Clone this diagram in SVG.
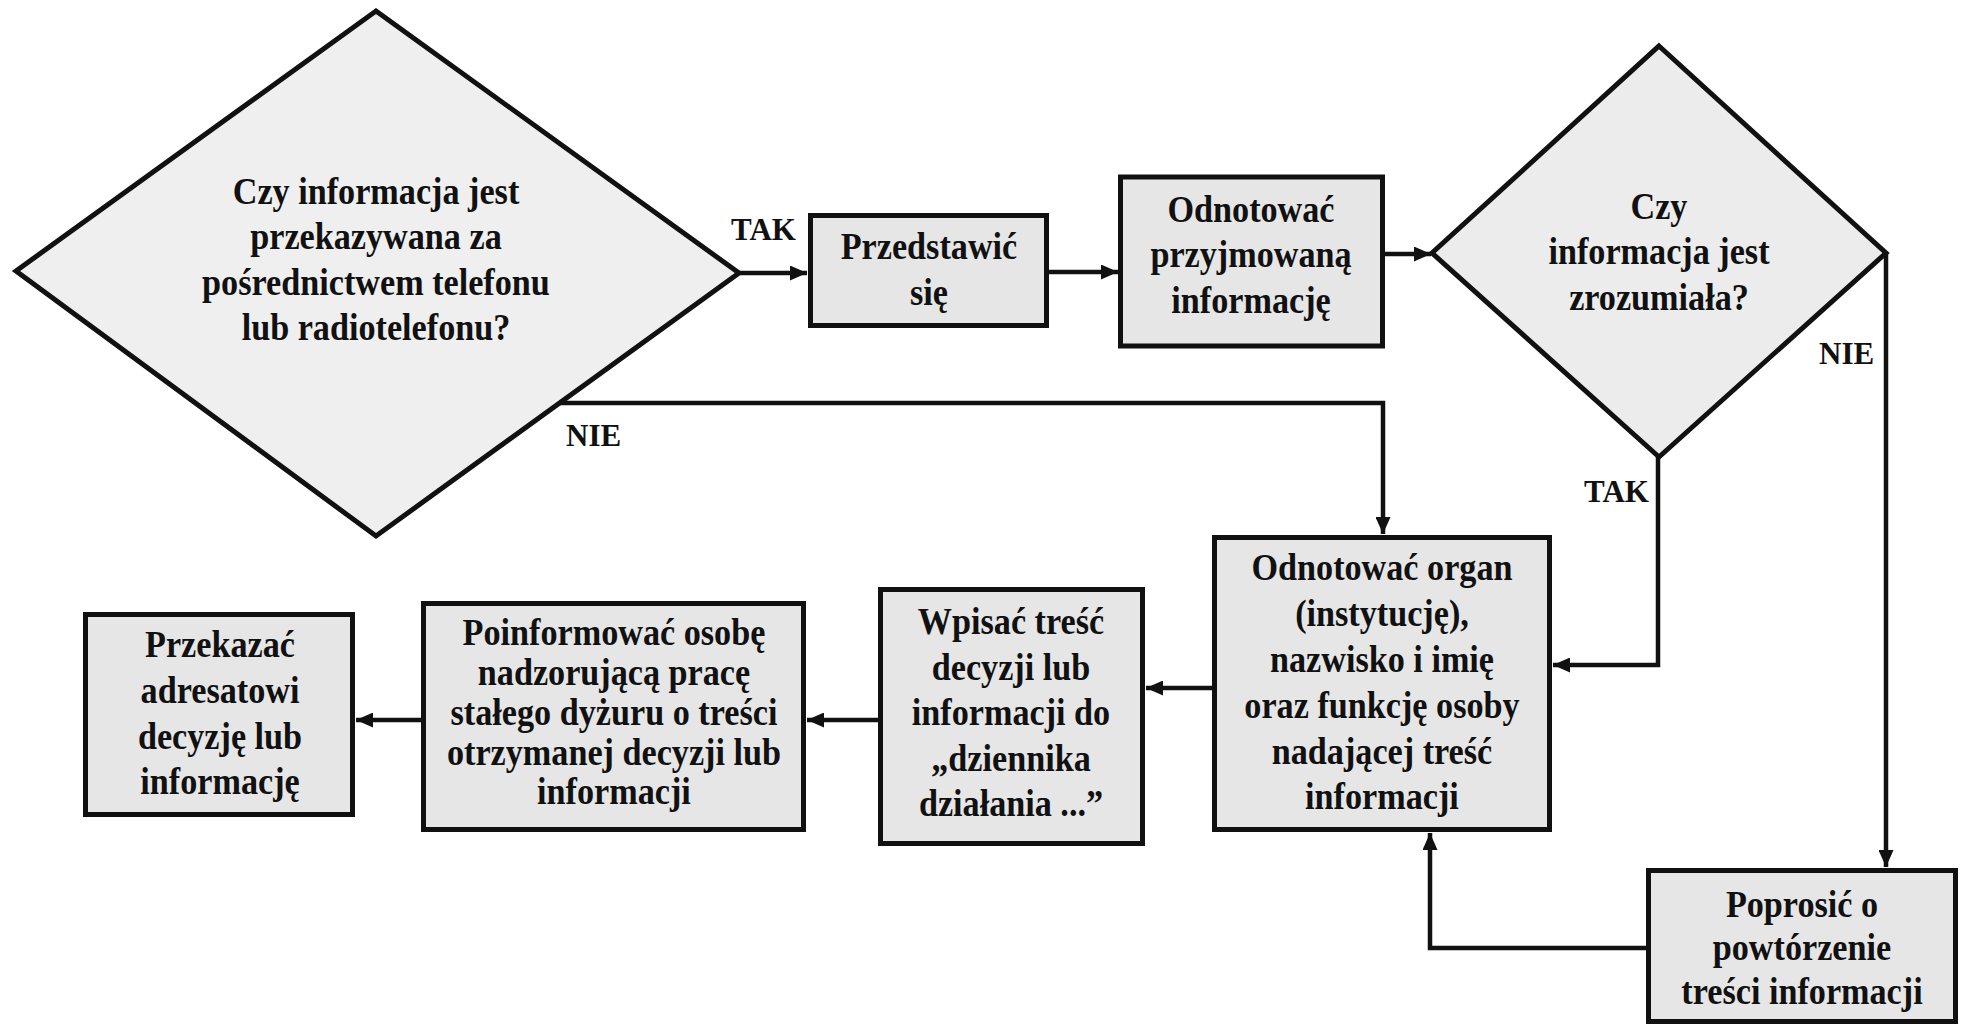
<svg xmlns="http://www.w3.org/2000/svg" width="1968" height="1027" viewBox="0 0 1968 1027">
<defs>
<style>
.box{fill:#e6e6e6;stroke:#111;stroke-width:5}
.dia{fill:#ececec;stroke:#111;stroke-width:5;stroke-linejoin:miter}
.t{font-family:"Liberation Serif","Times New Roman",serif;font-weight:bold;font-size:38px;fill:#111;text-anchor:middle}
.lbl{font-family:"Liberation Serif","Times New Roman",serif;font-weight:bold;font-size:31px;fill:#111}
.con{fill:none;stroke:#111;stroke-width:4.5;stroke-linejoin:miter}
</style>
<marker id="ah" markerUnits="userSpaceOnUse" markerWidth="17" markerHeight="15" viewBox="0 0 17 15" refX="17" refY="7.5" orient="auto">
<path d="M0,0 L17,7.5 L0,15 z" fill="#111"/>
</marker>
</defs>
<rect width="1968" height="1027" fill="#fff"/>

<g id="connectors">
<path class="con" d="M740,273 H807" marker-end="url(#ah)"/>
<path class="con" d="M1049,272 H1118" marker-end="url(#ah)"/>
<path class="con" d="M1385,254 H1431" marker-end="url(#ah)"/>
<path class="con" d="M557,403 H1383 V534" marker-end="url(#ah)"/>
<path class="con" d="M1658,457 V665 H1553" marker-end="url(#ah)"/>
<path class="con" d="M1886,253 V867" marker-end="url(#ah)"/>
<path class="con" d="M1646,948 H1430 V833" marker-end="url(#ah)"/>
<path class="con" d="M1213,688 H1146" marker-end="url(#ah)"/>
<path class="con" d="M879,720 H807" marker-end="url(#ah)"/>
<path class="con" d="M421,720 H356" marker-end="url(#ah)"/>
<text class="lbl" x="731" y="240">TAK</text>
<text class="lbl" x="566" y="446">NIE</text>
<text class="lbl" x="1584" y="502">TAK</text>
<text class="lbl" x="1819" y="364">NIE</text>
</g>

<g id="d1">
<polygon class="dia" points="376,11 739,273 376,536 16,271" style="fill:#efefef"/>
<text class="t" transform="matrix(0.9 0 0 1 37.6 0)"><tspan x="376" y="204">Czy informacja jest</tspan><tspan x="376" y="249.5">przekazywana za</tspan><tspan x="376" y="295">pośrednictwem telefonu</tspan><tspan x="376" y="340.5">lub radiotelefonu?</tspan></text>
</g>

<g id="n-przedstawic">
<rect class="box" x="810.5" y="215.5" width="236" height="110"/>
<text class="t" transform="matrix(0.9 0 0 1 92.9 0)"><tspan x="929" y="259">Przedstawić</tspan><tspan x="929" y="305">się</tspan></text>
</g>

<g id="n-odnotowac">
<rect class="box" x="1120.5" y="177" width="262" height="169"/>
<text class="t" transform="matrix(0.9 0 0 1 125.1 0)"><tspan x="1251" y="222">Odnotować</tspan><tspan x="1251" y="267">przyjmowaną</tspan><tspan x="1251" y="313">informację</tspan></text>
</g>

<g id="d2">
<polygon class="dia" points="1659,46 1886,253 1659,457 1432,253"/>
<text class="t" transform="matrix(0.9 0 0 1 165.9 0)"><tspan x="1659" y="219">Czy</tspan><tspan x="1659" y="264">informacja jest</tspan><tspan x="1659" y="310">zrozumiała?</tspan></text>
</g>

<g id="n-organ">
<rect class="box" x="1214.5" y="537.5" width="335" height="292"/>
<text class="t" transform="matrix(0.9 0 0 1 138.2 0)"><tspan x="1382" y="580">Odnotować organ</tspan><tspan x="1382" y="626">(instytucję),</tspan><tspan x="1382" y="672">nazwisko i imię</tspan><tspan x="1382" y="718">oraz funkcję osoby</tspan><tspan x="1382" y="764">nadającej treść</tspan><tspan x="1382" y="809">informacji</tspan></text>
</g>

<g id="n-poprosic">
<rect class="box" x="1648.5" y="870.5" width="307" height="151"/>
<text class="t" transform="matrix(0.9 0 0 1 180.2 0)"><tspan x="1802" y="917">Poprosić o</tspan><tspan x="1802" y="960">powtórzenie</tspan><tspan x="1802" y="1004">treści informacji</tspan></text>
</g>

<g id="n-wpisac">
<rect class="box" x="880.5" y="589.5" width="262" height="254"/>
<text class="t" transform="matrix(0.9 0 0 1 101.1 0)"><tspan x="1011" y="634">Wpisać treść</tspan><tspan x="1011" y="680">decyzji lub</tspan><tspan x="1011" y="725">informacji do</tspan><tspan x="1011" y="771">„dziennika</tspan><tspan x="1011" y="816">działania ...”</tspan></text>
</g>

<g id="n-poinformowac">
<rect class="box" x="423.5" y="603.5" width="380" height="226"/>
<text class="t" transform="matrix(0.9 0 0 1 61.4 0)"><tspan x="614" y="645">Poinformować osobę</tspan><tspan x="614" y="685">nadzorującą pracę</tspan><tspan x="614" y="725">stałego dyżuru o treści</tspan><tspan x="614" y="765">otrzymanej decyzji lub</tspan><tspan x="614" y="804">informacji</tspan></text>
</g>

<g id="n-przekazac">
<rect class="box" x="85.5" y="614.5" width="267" height="200"/>
<text class="t" transform="matrix(0.9 0 0 1 22 0)"><tspan x="220" y="657">Przekazać</tspan><tspan x="220" y="703">adresatowi</tspan><tspan x="220" y="749">decyzję lub</tspan><tspan x="220" y="794">informację</tspan></text>
</g>
</svg>
